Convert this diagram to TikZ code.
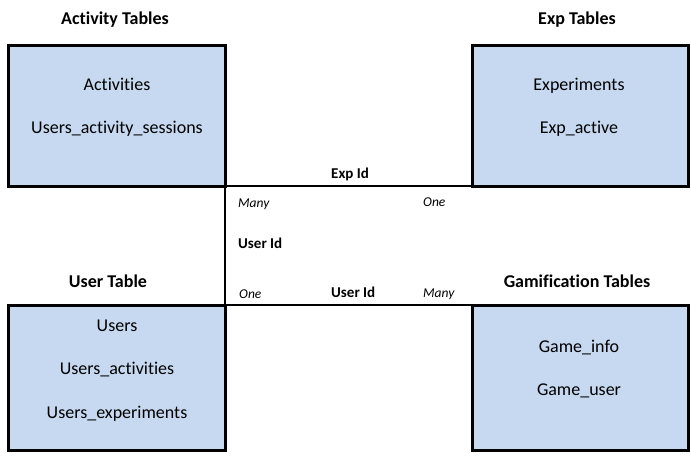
\documentclass[tikz,border=0pt]{standalone}
\usepackage{fontspec}
\setmainfont{Carlito}[Ligatures={NoCommon}]
\definecolor{boxfill}{HTML}{C6D9F0}
\begin{document}
\begin{tikzpicture}[x=1pt,y=-1pt,
  box/.style={draw=black, line width=3pt, fill=boxfill, inner sep=0pt, outer sep=0pt, anchor=north west},
  title/.style={font=\fontsize{18}{20}\selectfont\bfseries, anchor=base, inner sep=0pt},
  item/.style={font=\fontsize{18}{20}\selectfont, anchor=base, inner sep=0pt},
  key/.style={font=\fontsize{15}{17}\selectfont\bfseries, anchor=base west, inner sep=0pt},
  card/.style={font=\fontsize{13.5}{15}\selectfont\itshape, anchor=base west, inner sep=0pt},
  conn/.style={line width=2.5pt, black}]
\useasboundingbox (0,0) rectangle (691,458);
% boxes
\node[box, minimum width=217pt, minimum height=141pt] (act) at (8,45) {};
\node[box, minimum width=216pt, minimum height=141pt] (exp) at (472,45) {};
\node[box, minimum width=217pt, minimum height=145pt] (usr) at (8,305) {};
\node[box, minimum width=216pt, minimum height=145pt] (gam) at (472,305) {};
% connectors
\draw[conn] (act.south east) -- (exp.south west);
\draw[conn] (act.south east) -- (usr.north east);
\draw[conn] (usr.north east) -- (gam.north west);
% titles
\node[title] (tact) at (115,24) {Activity Tables};
\node[title] (texp) at (577,24) {Exp Tables};
\node[title] (tusr) at (108,287) {User Table};
\node[title] (tgam) at (577,287) {Gamification Tables};
% items
\node[item] (a1) at (117,90) {Activities};
\node[item] (a2) at (117,133) {Users\_activity\_sessions};
\node[item] (e1) at (579,90) {Experiments};
\node[item] (e2) at (579,133) {Exp\_active};
\node[item] (u1) at (117,331) {Users};
\node[item] (u2) at (117,374) {Users\_activities};
\node[item] (u3) at (117,418) {Users\_experiments};
\node[item] (g1) at (579,352) {Game\_info};
\node[item] (g2) at (579,395) {Game\_user};
% labels
\node[key] (k1) at (331,178) {Exp Id};
\node[card] (c1) at (238,207) {Many};
\node[card] (c2) at (423,206) {One};
\node[key] (k2) at (238,248) {User Id};
\node[card] (c3) at (239,298) {One};
\node[key] (k3) at (331,297) {User Id};
\node[card] (c4) at (423,297) {Many};
\end{tikzpicture}
\end{document}
